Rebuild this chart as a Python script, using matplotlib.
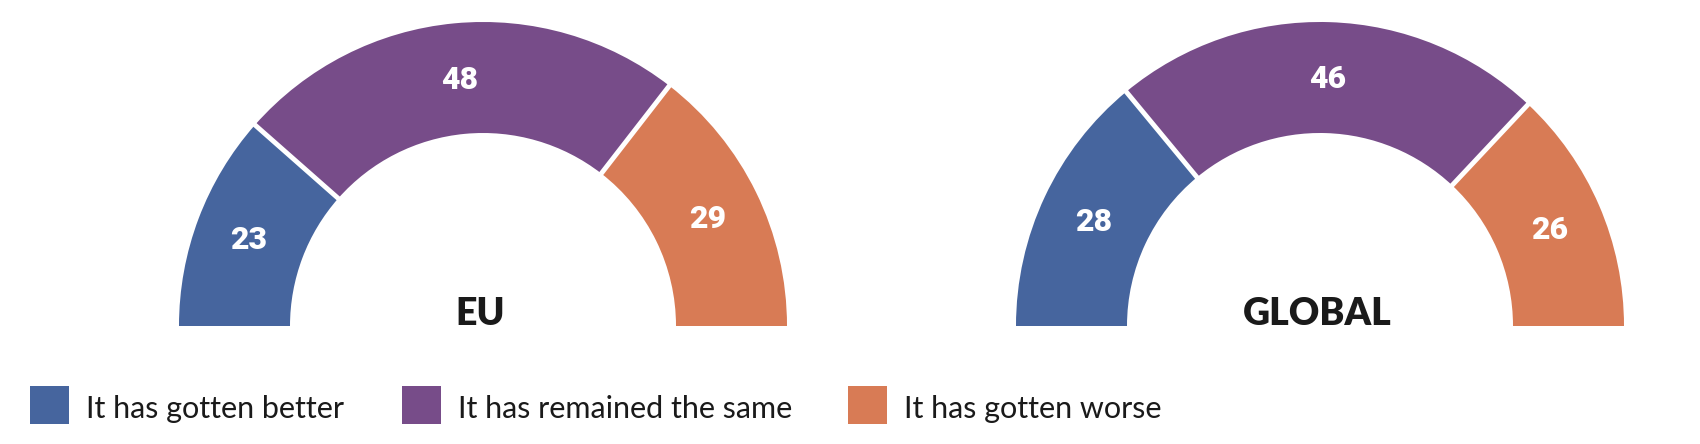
import numpy as np
import matplotlib.pyplot as plt
from matplotlib.patches import Wedge, Rectangle

categories = ["It has gotten better", "It has remained the same", "It has gotten worse"]
colors = ["#46659e", "#774c89", "#d87b55"]
regions = ["EU", "GLOBAL"]
values = {
    "EU": [23, 48, 29],
    "GLOBAL": [28, 46, 26],
}

fig = plt.figure(figsize=(17, 4.44), dpi=100)
ax = fig.add_axes([0, 0, 1, 1])
ax.set_xlim(0, 1700)
ax.set_ylim(0, 444)
ax.set_aspect("equal")
ax.axis("off")

centers = {"EU": (483, 118), "GLOBAL": (1320, 118)}
r_out = 304
r_in = 193

for reg in regions:
    cx, cy = centers[reg]
    vals = np.array(values[reg], dtype=float)
    total = vals.sum()
    start = 180.0
    for v, c in zip(vals, colors):
        span = v / total * 180.0
        end = start - span
        ax.add_patch(Wedge((cx, cy), r_out, end, start, width=r_out - r_in,
                           facecolor=c, edgecolor="none"))
        mid = np.deg2rad((start + end) / 2)
        rm = (r_out + r_in) / 2 + 2
        ax.text(cx + rm * np.cos(mid), cy + rm * np.sin(mid) - 3, f"{int(v)}",
                color="white", fontsize=23, fontweight="heavy",
                family=["Roboto", "DejaVu Sans"], ha="center", va="center")
        start = end
    # white gaps between segments
    acc = np.cumsum(vals)[:-1] / total * 180.0
    for a in acc:
        t = np.deg2rad(180.0 - a)
        ax.plot([cx + (r_in - 2) * np.cos(t), cx + (r_out + 2) * np.cos(t)],
                [cy + (r_in - 2) * np.sin(t), cy + (r_out + 2) * np.sin(t)],
                color="white", lw=3.5, solid_capstyle="butt")
    ax.text(cx - 3, cy + 1, reg, fontsize=27, fontweight="heavy",
            family=["Lato", "DejaVu Sans"], color="#1a1a1a",
            ha="center", va="baseline")

# legend
leg_x = [30, 402, 848]
for x, c, lab in zip(leg_x, colors, categories):
    ax.add_patch(Rectangle((x, 20), 39, 38, facecolor=c, edgecolor="none"))
    ax.text(x + 56, 26, lab, fontsize=22, family=["Lato", "DejaVu Sans"],
            color="#1a1a1a", ha="left", va="baseline")

fig.savefig("out.png", dpi=100, facecolor="white")
